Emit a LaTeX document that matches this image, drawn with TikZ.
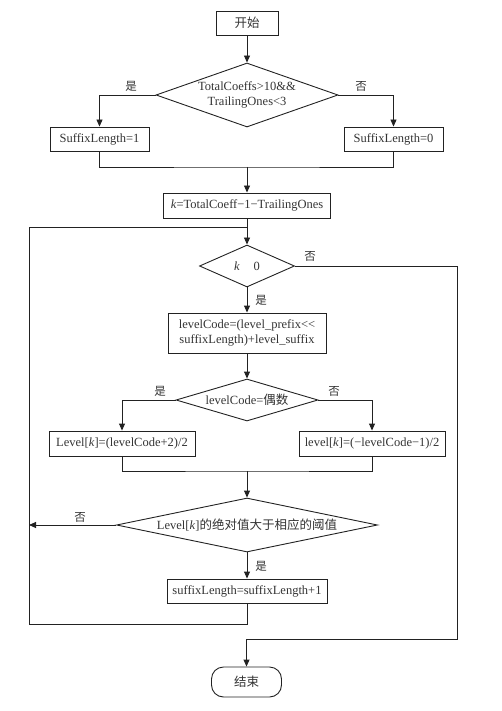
\documentclass[tikz,border=0pt]{standalone}
\usepackage{fontspec}
\setmainfont{Liberation Serif}
\newfontfamily\cjk{Noto Sans CJK SC}
\usetikzlibrary{arrows.meta, positioning, shapes.geometric}
\definecolor{linecol}{HTML}{222222}
\definecolor{txtcol}{HTML}{333333}

\begin{document}
\begin{tikzpicture}[x=1pt, y=-1pt,
    every node/.style={font=\fontsize{12.5}{14.5}\selectfont, text=txtcol},
    box/.style={draw=linecol, line width=0.9pt, inner sep=0pt, align=center},
    dia/.style={draw=linecol, line width=0.9pt, diamond, inner sep=0pt},
    ln/.style={draw=linecol, line width=0.9pt},
    arr/.style={ln, -{Triangle[length=7pt, width=6pt]}},
    yn/.style={font=\cjk\fontsize{11.5}{13}\selectfont},
]
\useasboundingbox (0,0) rectangle (501,711);

% boxes and decisions
\node[box, minimum width=62pt, minimum height=24pt] (start) at (247,23) {{\cjk 开始}};
\node[dia, minimum width=182pt, minimum height=64pt,
    label={[align=center]center:TotalCoeffs>10\&\&\\TrailingOnes<3}] (cond1) at (247,95) {};
\node[box, minimum width=99pt, minimum height=24pt] (sl1) at (99.5,139) {SuffixLength=1};
\node[box, minimum width=99pt, minimum height=24pt] (sl0) at (393.5,139) {SuffixLength=0};
\node[box, minimum width=167pt, minimum height=25pt] (kset) at (247,205.5) {\textit{k}=TotalCoeff−1−TrailingOnes};
\node[dia, minimum width=95pt, minimum height=42pt,
    label={center:\textit{k}\hspace{1.1em}0}] (kchk) at (247,266) {};
\node[box, minimum width=158pt, minimum height=40pt] (lcode) at (247,333)
    {levelCode=(level\_prefix<{}<\\suffixLength)+level\_suffix};
\node[dia, minimum width=142pt, minimum height=42pt,
    label={center:levelCode={\cjk 偶数}}] (even) at (247,400) {};
\node[box, minimum width=146pt, minimum height=25pt] (lvpos) at (122,443.5) {Level[\textit{k}]=(levelCode+2)/2};
\node[box, minimum width=146pt, minimum height=25pt] (lvneg) at (372,443.5) {level[\textit{k}]=(−levelCode−1)/2};
\node[dia, minimum width=261pt, minimum height=54pt,
    label={center:Level[\textit{k}]{\cjk 的绝对值大于相应的阈值}}] (thr) at (247,525) {};
\node[box, minimum width=160pt, minimum height=24pt] (sinc) at (247,591) {suffixLength=suffixLength+1};
\node[box, rounded corners=12pt, minimum width=70pt, minimum height=30pt] (stop) at (246.5,682) {{\cjk 结束}};

% branch labels
\node[yn] (y1) at (131,86) {是};
\node[yn] (n1) at (361,86) {否};
\node[yn] (n2) at (310,256) {否};
\node[yn] (y2) at (261,300) {是};
\node[yn] (y3) at (160,391) {是};
\node[yn] (n3) at (334,391) {否};
\node[yn] (n4) at (80,517) {否};
\node[yn] (y4) at (261,566) {是};

% joints
\coordinate (mrg1) at (247,167);
\coordinate (mrg2) at (247,471);
\coordinate (loopin) at (247,227);
\coordinate (looptop) at (29,227);
\coordinate (loopmid) at (29,525);
\coordinate (loopbot) at (29,624);
\coordinate (exitc) at (457,639);

\draw[arr] (start) -- (cond1);
\draw[arr] (cond1.west) -| (sl1.north);
\draw[arr] (cond1.east) -| (sl0.north);
\draw[ln] (sl1.south) |- (mrg1) -| (sl0.south);
\draw[arr] (mrg1) -- (kset);
\draw[arr] (kset) -- (kchk);
\draw[arr] (kchk.east) -| (exitc) -| (stop.north);
\draw[arr] (kchk) -- (lcode);
\draw[arr] (lcode) -- (even);
\draw[arr] (even.west) -| (lvpos.north);
\draw[arr] (even.east) -| (lvneg.north);
\draw[ln] (lvpos.south) |- (mrg2) -| (lvneg.south);
\draw[arr] (mrg2) -- (thr);
\draw[arr] (thr.west) -- (loopmid);
\draw[arr] (thr) -- (sinc);
\draw[ln] (sinc.south) |- (loopbot) -- (looptop) -- (loopin);

\end{tikzpicture}
\end{document}
